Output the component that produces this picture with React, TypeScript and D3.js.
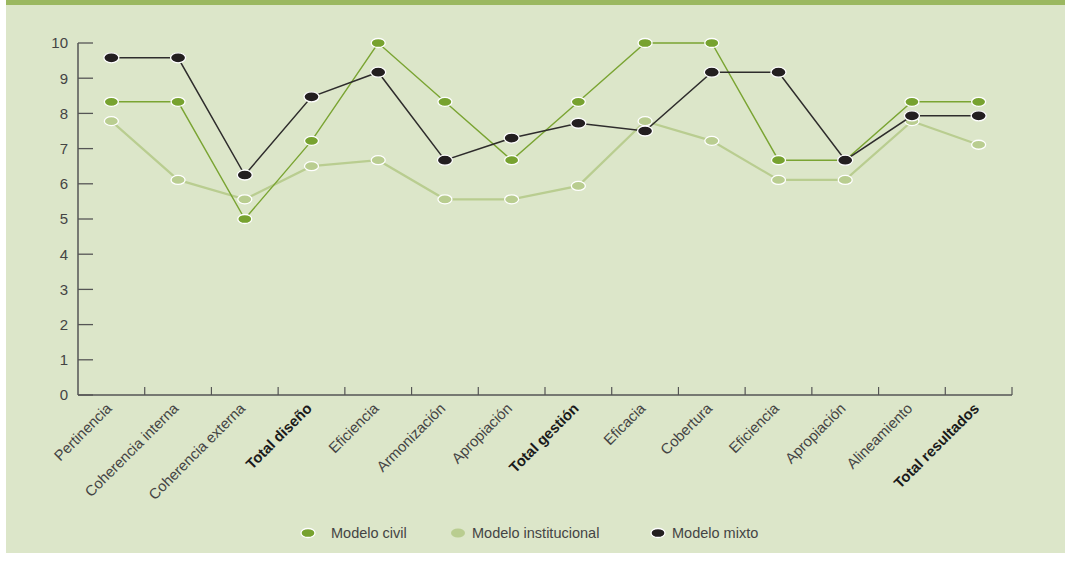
import React from "react";
import * as d3 from "d3";

const categories = [
  "Pertinencia",
  "Coherencia interna",
  "Coherencia externa",
  "Total diseño",
  "Eficiencia",
  "Armonización",
  "Apropiación",
  "Total gestión",
  "Eficacia",
  "Cobertura",
  "Eficiencia",
  "Apropiación",
  "Alineamiento",
  "Total resultados",
];
const boldCategories = [3, 7, 13];

const civil = [8.33, 8.33, 5.0, 7.22, 10, 8.33, 6.67, 8.33, 10, 10, 6.67, 6.67, 8.33, 8.33];
const institucional = [7.78, 6.11, 5.56, 6.5, 6.67, 5.56, 5.56, 5.94, 7.78, 7.22, 6.11, 6.11, 7.78, 7.11];
const mixto = [9.58, 9.58, 6.25, 8.47, 9.17, 6.67, 7.3, 7.72, 7.5, 9.17, 9.17, 6.67, 7.93, 7.93];

const yTicks = [0, 1, 2, 3, 4, 5, 6, 7, 8, 9, 10];

const seriesNames = ["Modelo civil", "Modelo institucional", "Modelo mixto"];

const W = 1065;
const H = 563;

export default function App() {
  const x = d3
    .scaleBand<number>()
    .domain(categories.map((_, i) => i))
    .range([78, 1012])
    .padding(0);
  const y = d3.scaleLinear().domain([0, 10]).range([395, 43]);
  const cx = (i: number) => (x(i) as number) + x.bandwidth() / 2;
  const line = d3
    .line<number>()
    .x((_, i) => cx(i))
    .y((d) => y(d));

  const series = [
    { name: seriesNames[1], data: institucional, stroke: "#b9cd90", width: 2.2, fill: "#b9cd90", rx: 7, ry: 4.5 },
    { name: seriesNames[0], data: civil, stroke: "#7aa432", width: 1.4, fill: "#77a22f", rx: 7, ry: 4.5 },
    { name: seriesNames[2], data: mixto, stroke: "#2e2c2c", width: 1.5, fill: "#231f20", rx: 7.5, ry: 5 },
  ];

  const legend = [
    { name: seriesNames[0], fill: "#77a22f", stroke: "#ffffff", mx: 308, tx: 331 },
    { name: seriesNames[1], fill: "#b9cd90", stroke: "none", mx: 458, tx: 472 },
    { name: seriesNames[2], fill: "#231f20", stroke: "#ffffff", mx: 658, tx: 672 },
  ];

  const boundaries = categories.map((_, i) => x(i) as number).concat([1012]);
  const font = "'Liberation Sans', Arial, Helvetica, sans-serif";

  return (
    <svg
      width={W}
      height={H}
      style={{ position: "absolute", left: 0, top: 0, display: "block" }}
      fontFamily={font}
    >
      <rect x={0} y={0} width={W} height={H} fill="#ffffff" />
      <rect x={6} y={0} width={W - 6} height={553} fill="#dce6c9" />
      <rect x={6} y={0} width={W - 6} height={5} fill="#9bb860" />

      {/* y axis */}
      <line x1={78} x2={78} y1={y(10)} y2={y(0)} stroke="#555555" strokeWidth={1.5} />
      {yTicks.map((t) => (
        <g key={t}>
          <line x1={78} x2={93} y1={y(t)} y2={y(t)} stroke="#555555" strokeWidth={1.3} />
          <text x={68} y={y(t)} dy="0.36em" textAnchor="end" fontSize={15} fill="#444444">
            {t}
          </text>
        </g>
      ))}

      {/* x axis */}
      <line x1={78} x2={1012} y1={y(0)} y2={y(0)} stroke="#555555" strokeWidth={1.5} />
      {boundaries.slice(1).map((b, i) => (
        <line key={i} x1={b} x2={b} y1={y(0)} y2={y(0) - 8} stroke="#555555" strokeWidth={1.2} />
      ))}
      {categories.map((c, i) => {
        const bold = boldCategories.includes(i);
        return (
          <text
            key={i}
            transform={`translate(${cx(i) - 6},${y(0) + 7}) rotate(-45)`}
            textAnchor="end"
            dy="0.7em"
            fontSize={14.8}
            fontWeight={bold ? "bold" : "normal"}
            fill={bold ? "#1a1a1a" : "#444444"}
          >
            {c}
          </text>
        );
      })}

      {/* series */}
      {series.map((s) => (
        <g key={s.name}>
          <path d={line(s.data) || ""} fill="none" stroke={s.stroke} strokeWidth={s.width} />
          {s.data.map((v, i) => (
            <ellipse
              key={i}
              cx={cx(i)}
              cy={y(v)}
              rx={s.rx}
              ry={s.ry}
              fill={s.fill}
              stroke="#ffffff"
              strokeWidth={1.3}
            />
          ))}
        </g>
      ))}

      {/* legend */}
      {legend.map((l) => (
        <g key={l.name}>
          <ellipse cx={l.mx} cy={533} rx={7} ry={4.5} fill={l.fill} stroke={l.stroke} strokeWidth={1.3} />
          <text x={l.tx} y={533} dy="0.36em" fontSize={14.5} fill="#444444">
            {l.name}
          </text>
        </g>
      ))}
    </svg>
  );
}
